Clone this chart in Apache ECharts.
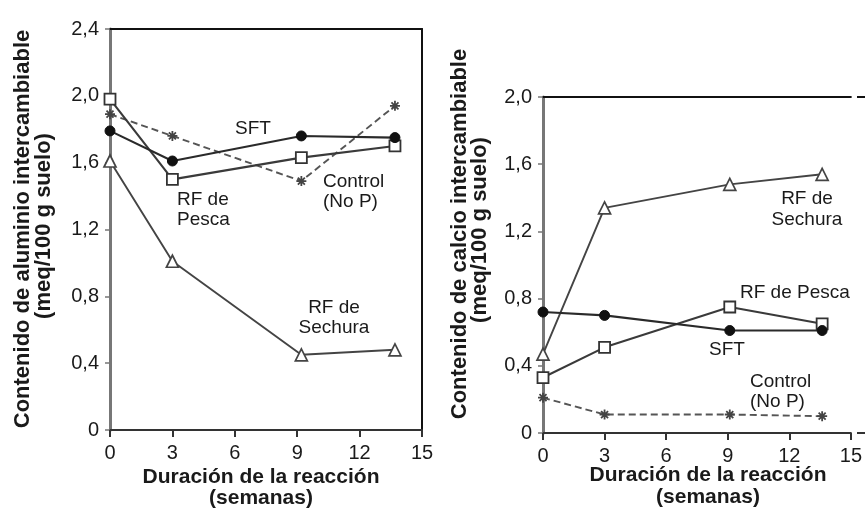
<!DOCTYPE html>
<html>
<head>
<meta charset="utf-8">
<script src="https://cdn.jsdelivr.net/npm/echarts@6/dist/echarts.min.js"></script>
<style>
html,body{margin:0;padding:0;background:#fff;}
#chart{width:865px;height:509px;}
</style>
</head>
<body>
<div id="chart"></div>
<script>
// ---- Data ----
var weeksAl = [0, 3, 9.2, 13.7];
var pescaAl = [1.98, 1.50, 1.63, 1.70];
var sftAl = [1.79, 1.61, 1.76, 1.75];
var controlAl = [1.89, 1.76, 1.49, 1.94];
var sechuraAl = [1.61, 1.01, 0.45, 0.48];

var weeksCa = [0, 3, 9.1, 13.6];
var sechuraCa = [0.47, 1.34, 1.48, 1.54];
var pescaCa = [0.33, 0.51, 0.75, 0.65];
var sftCa = [0.72, 0.70, 0.61, 0.61];
var controlCa = [0.21, 0.11, 0.11, 0.10];

var xTicks = { min: 0, max: 15, interval: 3 };
var yTicksAl = { min: 0, max: 2.4, interval: 0.4 };
var yTicksCa = { min: 0, max: 2.0, interval: 0.4 };

var yTitleAl = 'Contenido de aluminio intercambiable';
var yTitleCa = 'Contenido de calcio intercambiable';
var yUnit = '(meq/100 g suelo)';
var xTitle1 = 'Duración de la reacción';
var xTitle2 = '(semanas)';

// ---- helpers ----
function pairs(xs, ys) { return xs.map(function (x, i) { return [x, ys[i]]; }); }
var FONT = '"Liberation Sans", Arial, Helvetica, sans-serif';
var TXT = '#1a1a1a';
function fmtY(v) { return v === 0 ? '0' : v.toFixed(1).replace('.', ','); }

var starPath = 'path://M0,5L10,5M5,0L5,10M1.5,1.5L8.5,8.5M8.5,1.5L1.5,8.5';

function styleFor(kind) {
  if (kind === 'pesca') return { symbol: 'rect', symbolSize: 11, item: { color: '#fff', borderColor: '#333', borderWidth: 1.8 }, line: { color: '#3a3a3a', width: 2.1, type: 'solid' } };
  if (kind === 'sft') return { symbol: 'circle', symbolSize: 10, item: { color: '#111', borderColor: '#111', borderWidth: 1 }, line: { color: '#2a2a2a', width: 2.1, type: 'solid' } };
  if (kind === 'sechura') return { symbol: 'triangle', symbolSize: 12, item: { color: '#fff', borderColor: '#444', borderWidth: 1.7 }, line: { color: '#444', width: 1.9, type: 'solid' } };
  return { symbol: starPath, symbolSize: 10, item: { color: 'none', borderColor: '#444', borderWidth: 1.8 }, line: { color: '#555', width: 1.9, type: [7, 4] } };
}
function mk(name, kind, xs, ys, gi) {
  var s = styleFor(kind);
  return {
    name: name, type: 'line', xAxisIndex: gi * 2, yAxisIndex: gi * 2,
    data: pairs(xs, ys), symbol: s.symbol, symbolSize: s.symbolSize, showAllSymbol: true,
    itemStyle: s.item, lineStyle: s.line, z: 3, animation: false
  };
}

function mainX(gi) {
  return {
    type: 'value', gridIndex: gi, position: 'bottom', min: xTicks.min, max: xTicks.max, interval: xTicks.interval,
    axisLine: { show: true, onZero: false, lineStyle: { color: '#333', width: 2 } },
    axisTick: { show: true, length: 7, inside: false, lineStyle: { color: '#333', width: 2 } },
    axisLabel: { show: true, margin: 13, fontFamily: FONT, fontSize: 20, color: TXT },
    splitLine: { show: false }
  };
}
function frameX(gi) {
  return {
    type: 'value', gridIndex: gi, position: 'top', min: xTicks.min, max: xTicks.max,
    axisLine: { show: true, onZero: false, lineStyle: { color: '#111', width: 2 } },
    axisTick: { show: false }, axisLabel: { show: false }, splitLine: { show: false }
  };
}
function mainY(gi, t) {
  return {
    type: 'value', gridIndex: gi, position: 'left', min: t.min, max: t.max, interval: t.interval,
    axisLine: { show: true, onZero: false, lineStyle: { color: '#777', width: 3 } },
    axisTick: { show: true, length: 5, lineStyle: { color: '#777', width: 1.5 } },
    axisLabel: { show: true, margin: 11, fontFamily: FONT, fontSize: 20, color: TXT, formatter: fmtY,
                 verticalAlign: 'middle', padding: [0, 0, 15, 0] },
    splitLine: { show: false }
  };
}
function frameY(gi, t) {
  return {
    type: 'value', gridIndex: gi, position: 'right', min: t.min, max: t.max,
    axisLine: { show: gi === 0, onZero: false, lineStyle: { color: '#111', width: 2 } },
    axisTick: { show: false }, axisLabel: { show: false }, splitLine: { show: false }
  };
}

function txt(x, y, text, opts) {
  opts = opts || {};
  return {
    type: 'text', x: x, y: y, rotation: opts.rot || 0, z: 10,
    style: {
      text: text, fill: TXT, fontFamily: FONT,
      fontSize: opts.size || 19, fontWeight: opts.bold ? 'bold' : 'normal',
      textAlign: opts.align || 'center', textVerticalAlign: 'middle',
      lineHeight: opts.lh || 20
    }
  };
}

var R = Math.PI / 2;
var option = {
  backgroundColor: '#fff',
  animation: false,
  grid: [
    { left: 110, top: 29, width: 312, height: 401 },
    { left: 543, top: 97, width: 315, height: 336 }
  ],
  xAxis: [mainX(0), frameX(0), mainX(1), frameX(1)],
  yAxis: [mainY(0, yTicksAl), frameY(0, yTicksAl), mainY(1, yTicksCa), frameY(1, yTicksCa)],
  series: [
    mk('Control (No P)', 'control', weeksAl, controlAl, 0),
    mk('RF de Sechura', 'sechura', weeksAl, sechuraAl, 0),
    mk('RF de Pesca', 'pesca', weeksAl, pescaAl, 0),
    mk('SFT', 'sft', weeksAl, sftAl, 0),
    mk('Control (No P)', 'control', weeksCa, controlCa, 1),
    mk('RF de Sechura', 'sechura', weeksCa, sechuraCa, 1),
    mk('RF de Pesca', 'pesca', weeksCa, pescaCa, 1),
    mk('SFT', 'sft', weeksCa, sftCa, 1)
  ],
  graphic: [
    // frame extensions of right panel
    { type: 'line', shape: { x1: 857, y1: 97, x2: 865, y2: 97 }, style: { stroke: '#111', lineWidth: 2 } },
    { type: 'line', shape: { x1: 857, y1: 433, x2: 865, y2: 433 }, style: { stroke: '#333', lineWidth: 2 } },
    // axis titles - left
    txt(23, 229, yTitleAl, { rot: R, bold: true, size: 22 }),
    txt(44, 226, yUnit, { rot: R, bold: true, size: 22 }),
    txt(261, 477, xTitle1, { bold: true, size: 21 }),
    txt(261, 498, xTitle2, { bold: true, size: 21 }),
    // axis titles - right
    txt(460, 234, yTitleCa, { rot: R, bold: true, size: 22 }),
    txt(480, 230, yUnit, { rot: R, bold: true, size: 22 }),
    txt(708, 475, xTitle1, { bold: true, size: 21 }),
    txt(708, 497, xTitle2, { bold: true, size: 21 }),
    // series annotations - left
    txt(253, 129, 'SFT'),
    txt(177, 210, 'RF de\nPesca', { align: 'left' }),
    txt(323, 192, 'Control\n(No P)', { align: 'left' }),
    txt(334, 318, 'RF de\nSechura'),
    // series annotations - right
    txt(807, 209, 'RF de\nSechura', { lh: 21 }),
    txt(740, 293, 'RF de Pesca', { align: 'left' }),
    txt(727, 350, 'SFT'),
    txt(750, 392, 'Control\n(No P)', { align: 'left' })
  ]
};

var chart = echarts.init(document.getElementById('chart'), null, { renderer: 'canvas' });
chart.setOption(option);
</script>
</body>
</html>
